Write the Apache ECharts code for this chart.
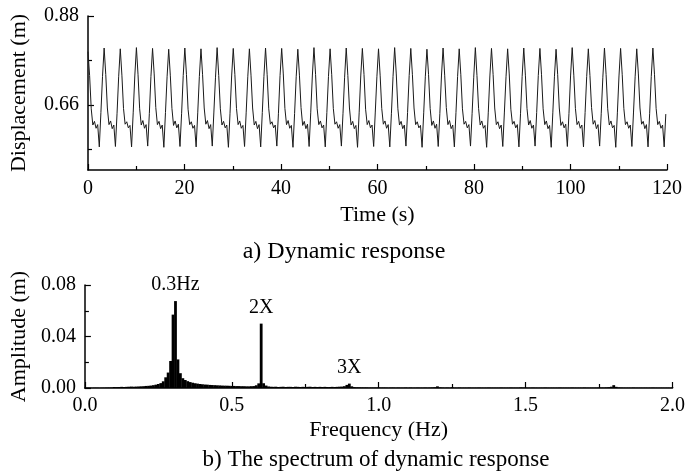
<!DOCTYPE html>
<html>
<head>
<meta charset="utf-8">
<script src="https://cdn.jsdelivr.net/npm/echarts@6.0.0/dist/echarts.min.js"></script>
<style>
  html, body { margin: 0; padding: 0; background: #fff; }
  #chart { width: 688px; height: 474px; }
</style>
</head>
<body>
<div id="chart"></div>
<script>
// (a) displacement time history, sampled every timeStep seconds (one row ~ one cycle)
const timeStep = 0.3345;
const displacement = [
  0.792, 0.733, 0.651, 0.611, 0.620, 0.603, 0.612, 0.557, 0.642, 0.731,
  0.801, 0.736, 0.653, 0.612, 0.621, 0.602, 0.611, 0.558, 0.640, 0.730,
  0.799, 0.734, 0.652, 0.613, 0.619, 0.604, 0.610, 0.557, 0.641, 0.732,
  0.802, 0.735, 0.651, 0.611, 0.622, 0.603, 0.612, 0.559, 0.639, 0.731,
  0.800, 0.737, 0.654, 0.612, 0.620, 0.602, 0.611, 0.556, 0.642, 0.730,
  0.798, 0.734, 0.652, 0.610, 0.621, 0.604, 0.613, 0.558, 0.640, 0.733,
  0.801, 0.736, 0.650, 0.612, 0.619, 0.603, 0.610, 0.557, 0.641, 0.731,
  0.799, 0.735, 0.653, 0.613, 0.622, 0.602, 0.612, 0.559, 0.643, 0.729,
  0.802, 0.733, 0.651, 0.611, 0.620, 0.604, 0.611, 0.556, 0.640, 0.732,
  0.800, 0.736, 0.652, 0.612, 0.621, 0.603, 0.610, 0.558, 0.641, 0.730,
  0.799, 0.734, 0.653, 0.611, 0.620, 0.602, 0.612, 0.557, 0.642, 0.731,
  0.801, 0.735, 0.651, 0.613, 0.619, 0.604, 0.611, 0.559, 0.640, 0.733,
  0.800, 0.737, 0.652, 0.612, 0.622, 0.603, 0.610, 0.556, 0.639, 0.730,
  0.798, 0.734, 0.654, 0.610, 0.620, 0.602, 0.613, 0.558, 0.641, 0.732,
  0.802, 0.736, 0.651, 0.612, 0.621, 0.604, 0.611, 0.557, 0.642, 0.731,
  0.799, 0.735, 0.652, 0.613, 0.619, 0.603, 0.612, 0.559, 0.640, 0.729,
  0.801, 0.733, 0.653, 0.611, 0.620, 0.602, 0.610, 0.556, 0.641, 0.732,
  0.800, 0.736, 0.650, 0.612, 0.622, 0.604, 0.611, 0.558, 0.643, 0.730,
  0.799, 0.734, 0.652, 0.613, 0.621, 0.603, 0.612, 0.557, 0.640, 0.731,
  0.802, 0.737, 0.651, 0.611, 0.620, 0.602, 0.611, 0.559, 0.642, 0.733,
  0.800, 0.735, 0.653, 0.612, 0.619, 0.604, 0.610, 0.556, 0.641, 0.730,
  0.798, 0.736, 0.652, 0.610, 0.621, 0.603, 0.613, 0.558, 0.639, 0.732,
  0.801, 0.734, 0.654, 0.612, 0.622, 0.602, 0.611, 0.557, 0.642, 0.731,
  0.799, 0.735, 0.651, 0.613, 0.620, 0.604, 0.612, 0.559, 0.640, 0.729,
  0.802, 0.733, 0.652, 0.611, 0.621, 0.603, 0.610, 0.556, 0.641, 0.732,
  0.800, 0.736, 0.653, 0.612, 0.619, 0.602, 0.611, 0.558, 0.643, 0.730,
  0.799, 0.737, 0.650, 0.613, 0.620, 0.604, 0.612, 0.557, 0.640, 0.731,
  0.801, 0.734, 0.652, 0.611, 0.622, 0.603, 0.611, 0.559, 0.642, 0.733,
  0.800, 0.735, 0.651, 0.612, 0.621, 0.602, 0.610, 0.556, 0.641, 0.730,
  0.798, 0.736, 0.653, 0.610, 0.619, 0.604, 0.613, 0.558, 0.639, 0.732,
  0.802, 0.734, 0.652, 0.612, 0.620, 0.603, 0.611, 0.557, 0.642, 0.731,
  0.799, 0.733, 0.654, 0.613, 0.622, 0.602, 0.612, 0.559, 0.640, 0.729,
  0.801, 0.736, 0.651, 0.611, 0.621, 0.604, 0.610, 0.556, 0.641, 0.732,
  0.800, 0.735, 0.652, 0.612, 0.619, 0.603, 0.611, 0.558, 0.643, 0.730,
  0.799, 0.737, 0.653, 0.613, 0.620, 0.602, 0.612, 0.557, 0.640, 0.731,
  0.801, 0.735, 0.652, 0.612, 0.620, 0.603, 0.611, 0.557, 0.638
];

// (b) amplitude spectrum, one value per frequency bin of freqStep Hz (bin 0 .. 240)
const freqStep = 1 / 120;
const amplitude = [
  0, 0.0002, 0.0002, 0.0001, 0.0002, 0.0002, 0.0001, 0.0002, 0.0002, 0.0003, 0.0003, 0.0004,
  0.0008, 0.0007, 0.0008, 0.0009, 0.0008, 0.0009, 0.0010, 0.0011, 0.0010, 0.0011, 0.0012, 0.0013,
  0.0014, 0.0016, 0.0017, 0.0019, 0.0022, 0.0026, 0.0031, 0.0038, 0.0052, 0.0083, 0.0120, 0.0210,
  0.0570, 0.0675, 0.0222, 0.0115, 0.0076, 0.0062, 0.0053, 0.0046, 0.0041, 0.0037, 0.0034, 0.0031,
  0.0029, 0.0027, 0.0026, 0.0024, 0.0023, 0.0022, 0.0021, 0.0020, 0.0019, 0.0018, 0.0018, 0.0017,
  0.0016, 0.0016, 0.0015, 0.0015, 0.0014, 0.0014, 0.0013, 0.0013, 0.0014, 0.0015, 0.0021, 0.0036,
  0.0500, 0.0037, 0.0019, 0.0012, 0.0010, 0.0009, 0.0010, 0.0008, 0.0009, 0.0010, 0.0008, 0.0009,
  0.0009, 0.0008, 0.0010, 0.0009, 0.0008, 0.0009, 0.0008, 0.0009, 0.0010, 0.0008, 0.0009, 0.0008,
  0.0009, 0.0008, 0.0009, 0.0008, 0.0008, 0.0009, 0.0008, 0.0009, 0.0010, 0.0011, 0.0014, 0.0024,
  0.0034, 0.0013, 0.0007, 0.0005, 0.0005, 0.0004, 0.0004, 0.0004, 0.0003, 0.0003, 0.0003, 0.0003,
  0.0004, 0.0003, 0.0003, 0.0003, 0.0002, 0.0003, 0.0003, 0.0002, 0.0003, 0.0002, 0.0002, 0.0003,
  0.0002, 0.0003, 0.0002, 0.0002, 0.0003, 0.0002, 0.0002, 0.0003, 0.0002, 0.0003, 0.0004, 0.0006,
  0.0013, 0.0005, 0.0003, 0.0002, 0.0003, 0.0002, 0.0006, 0.0002, 0.0002, 0.0003, 0.0002, 0.0002,
  0.0002, 0.0003, 0.0002, 0.0002, 0.0002, 0.0003, 0.0002, 0.0002, 0.0002, 0.0003, 0.0002, 0.0002,
  0.0002, 0.0002, 0.0003, 0.0002, 0.0002, 0.0002, 0.0003, 0.0002, 0.0002, 0.0002, 0.0004, 0.0003,
  0.0002, 0.0002, 0.0002, 0.0003, 0.0002, 0.0002, 0.0002, 0.0002, 0.0003, 0.0002, 0.0002, 0.0002,
  0.0002, 0.0002, 0.0003, 0.0002, 0.0002, 0.0002, 0.0002, 0.0003, 0.0002, 0.0002, 0.0002, 0.0002,
  0.0003, 0.0002, 0.0002, 0.0002, 0.0002, 0.0002, 0.0003, 0.0003, 0.0003, 0.0004, 0.0006, 0.0010,
  0.0022, 0.0009, 0.0004, 0.0003, 0.0002, 0.0002, 0.0002, 0.0002, 0.0003, 0.0002, 0.0002, 0.0002,
  0.0002, 0.0002, 0.0002, 0.0002, 0.0003, 0.0002, 0.0002, 0.0002, 0.0002, 0.0002, 0.0002, 0.0002, 0.0002
];

// peak annotations: [bin, text]
const peakLabels = [[37, "0.3Hz"], [72, "2X"], [108, "3X"]];

const FONT = "Liberation Serif";
const BLACK = "#000";

const lineData = displacement.map((v, i) => [i * timeStep, v]);
const barData = amplitude.map((a, k) => {
  const lab = peakLabels.find((p) => p[0] === k);
  const item = { value: [k * freqStep, a] };
  if (lab) {
    item.label = { show: true, position: "top", distance: 6, formatter: lab[1],
      fontFamily: FONT, fontSize: 20, color: BLACK };
  }
  return item;
});

const axisCommon = {
  axisLine: { show: true, lineStyle: { color: BLACK, width: 1.5 } },
  axisTick: { show: true, inside: true, length: 6, lineStyle: { color: BLACK, width: 1.2 } },
  minorTick: { show: true, splitNumber: 2, length: 4, lineStyle: { color: BLACK, width: 1.2 } },
  splitLine: { show: false },
  nameLocation: "middle",
  nameTextStyle: { fontFamily: FONT, fontSize: 22, color: BLACK },
};
const labelStyle = { fontFamily: FONT, fontSize: 20, color: BLACK };

const chart = echarts.init(document.getElementById("chart"));

chart.setOption({
  animation: false,
  backgroundColor: "#fff",
  textStyle: { fontFamily: FONT },
  grid: [
    { left: 87, top: 16, width: 580, height: 154 },
    { left: 81, top: 285, width: 592, height: 103 },
  ],
  xAxis: [
    {
      ...axisCommon,
      gridIndex: 0, type: "value", min: 0, max: 120, interval: 20,
      axisLabel: { ...labelStyle, margin: 9 },
      name: "Time (s)", nameGap: 34,
    },
    {
      ...axisCommon,
      gridIndex: 1, type: "value", min: 0, max: 2, interval: 0.5,
      axisLabel: { ...labelStyle, margin: 8, formatter: (v) => v.toFixed(1) },
      name: "Frequency (Hz)", nameGap: 31,
    },
  ],
  yAxis: [
    {
      ...axisCommon,
      gridIndex: 0, type: "value", min: 0.5, max: 0.88,
      axisTick: { ...axisCommon.axisTick, customValues: [0.66, 0.88] },
      minorTick: { show: false },
      axisLabel: { ...labelStyle, margin: 9, customValues: [0.66, 0.88],
        formatter: (v) => v.toFixed(2) },
      name: "Displacement (m)", nameGap: 58,
    },
    {
      // short ticks at 0.55 / 0.77
      gridIndex: 0, type: "value", min: 0.5, max: 0.88, position: "left",
      axisLine: { show: false },
      axisTick: { show: true, inside: true, length: 4, customValues: [0.55, 0.77],
        lineStyle: { color: BLACK, width: 1.2 } },
      axisLabel: { show: false },
      splitLine: { show: false },
    },
    {
      ...axisCommon,
      gridIndex: 1, type: "value", min: 0, max: 0.08, interval: 0.04,
      axisLabel: { ...labelStyle, margin: 9, formatter: (v) => v.toFixed(2) },
      name: "Amplitude (m)", nameGap: 54,
    },
  ],
  graphic: [
    { type: "text", x: 344, y: 240,
      style: { text: "a) Dynamic response", font: "24px " + FONT, fill: BLACK, textAlign: "center" } },
    { type: "text", x: 376, y: 448,
      style: { text: "b) The spectrum of dynamic response", font: "23px " + FONT, fill: BLACK, textAlign: "center" } },
  ],
  series: [
    {
      type: "line", xAxisIndex: 0, yAxisIndex: 0,
      data: lineData, showSymbol: false,
      lineStyle: { color: "#1a1a1a", width: 1 },
    },
    {
      type: "bar", xAxisIndex: 1, yAxisIndex: 2,
      data: barData, barWidth: 2.8,
      itemStyle: { color: BLACK },
    },
  ],
});
</script>
</body>
</html>
